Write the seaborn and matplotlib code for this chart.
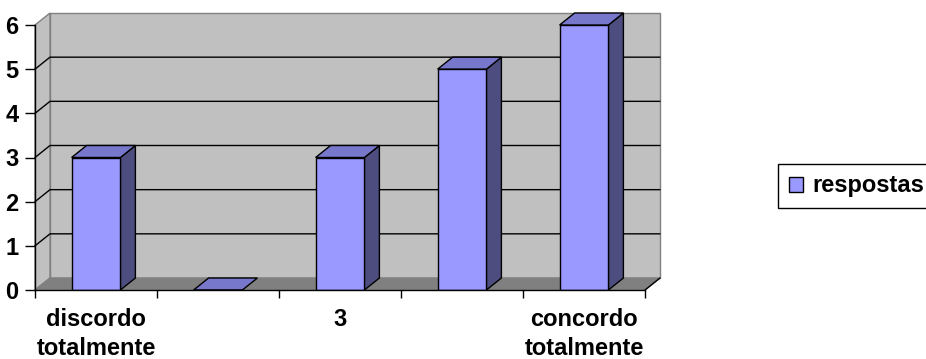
import numpy as np
import pandas as pd
import matplotlib
matplotlib.use("Agg")
import matplotlib.pyplot as plt
import matplotlib.transforms as mtransforms
from matplotlib.patches import Polygon, Patch
from matplotlib.lines import Line2D
import seaborn as sns

# Survey answers per agreement level
categories = ["discordo totalmente", "2", "3", "4", "concordo totalmente"]
respostas = [3, 0, 3, 5, 6]
tick_labels = ["discordo\ntotalmente", "", "3", "", "concordo\ntotalmente"]
y_ticks = [0, 1, 2, 3, 4, 5, 6]
series_name = "respostas"

FRONT = "#9999ff"
TOP = "#7777cc"
SIDE = "#4d4d80"
WALL = "#c0c0c0"
FLOOR = "#808080"
WALL_EDGE = "#808080"
DEPTH = (15, 12)  # depth of the 3-D box, in pixels (right, up)

sns.set_theme(style="white")
plt.rcParams["font.family"] = ["Liberation Sans", "DejaVu Sans"]
plt.rcParams["font.weight"] = "bold"
plt.rcParams["text.color"] = "black"

fig = plt.figure(figsize=(9.26, 3.59), dpi=100)
ax = fig.add_axes([35 / 926, 69 / 359, 610 / 926, 265 / 359])
ax.patch.set_visible(False)

df = pd.DataFrame({"categoria": categories, "respostas": respostas})
sns.barplot(data=df, x="categoria", y="respostas", color=FRONT, saturation=1,
            width=0.4, edgecolor="black", linewidth=1, ax=ax, zorder=3)
ax.set_xlim(-0.5, len(categories) - 0.5)
ax.set_ylim(y_ticks[0], y_ticks[-1])
x0, x1 = ax.get_xlim()
ymin, ymax = ax.get_ylim()


def to_px(x, y, back):
    px, py = ax.transData.transform((x, y))
    if back:
        px += DEPTH[0]
        py += DEPTH[1]
    return (px, py)


def face(points, **kw):
    ax.add_patch(Polygon([to_px(*p) for p in points], closed=True,
                         transform=mtransforms.IdentityTransform(),
                         clip_on=False, **kw))


def seg(points, **kw):
    xy = np.array([to_px(*p) for p in points])
    ax.add_line(Line2D(xy[:, 0], xy[:, 1], transform=mtransforms.IdentityTransform(),
                       clip_on=False, **kw))


# walls and floor
face([(x0, ymin, True), (x1, ymin, True), (x1, ymax, True), (x0, ymax, True)],
     facecolor=WALL, edgecolor=WALL_EDGE, linewidth=1, zorder=0)
face([(x0, ymin, False), (x0, ymax, False), (x0, ymax, True), (x0, ymin, True)],
     facecolor=WALL, edgecolor=WALL_EDGE, linewidth=1, zorder=0)
face([(x0, ymin, False), (x1, ymin, False), (x1, ymin, True), (x0, ymin, True)],
     facecolor=FLOOR, edgecolor=FLOOR, linewidth=1, zorder=0.5)
for v in y_ticks[1:-1]:
    seg([(x0, v, False), (x0, v, True), (x1, v, True)], color="black", linewidth=1, zorder=1)
seg([(x1, ymin, False), (x1, ymin, True)], color="black", linewidth=1, zorder=4)

# 3-D sides and tops of the bars
for bar in list(ax.containers[0]):
    l = bar.get_x()
    r = l + bar.get_width()
    v = bar.get_height()
    if v > 0:
        face([(r, 0, False), (r, v, False), (r, v, True), (r, 0, True)],
             facecolor=SIDE, edgecolor="black", linewidth=1, zorder=2.9)
    face([(l, v, False), (r, v, False), (r, v, True), (l, v, True)],
         facecolor=TOP, edgecolor="black", linewidth=1, zorder=2.9)

# axes
for s in ("top", "right"):
    ax.spines[s].set_visible(False)
for s in ("left", "bottom"):
    ax.spines[s].set_color("black")
    ax.spines[s].set_linewidth(1)
    ax.spines[s].set_zorder(5)

ax.set_yticks(y_ticks)
ax.set_yticklabels([str(t) for t in y_ticks])
ax.tick_params(axis="y", left=True, length=7, width=1, color="black",
               direction="out", labelsize=17, pad=5, labelcolor="black")
ax.set_xticks(range(len(categories)), tick_labels)
ax.set_xticks(np.arange(x0, x1 + 0.01, 1), minor=True)
ax.tick_params(axis="x", which="major", bottom=False, length=0, pad=13,
               labelsize=17, labelcolor="black")
ax.tick_params(axis="x", which="minor", bottom=True, length=6, width=1,
               color="black", direction="out")
for t in ax.get_xticklabels():
    t.set_linespacing(1.35)
ax.set_xlabel("")
ax.set_ylabel("")

leg = fig.legend(handles=[Patch(facecolor=FRONT, edgecolor="black", label=series_name)],
                 loc="center left", bbox_to_anchor=(778 / 926, 1 - 186 / 359),
                 frameon=True, fancybox=False, edgecolor="black", framealpha=1,
                 handlelength=0.6, handleheight=0.6, handletextpad=0.4,
                 borderpad=0.45, borderaxespad=0, labelcolor="black",
                 prop={"weight": "bold", "size": 17})
leg.get_frame().set_linewidth(1)

fig.savefig("out.png", dpi=100, facecolor="white")
